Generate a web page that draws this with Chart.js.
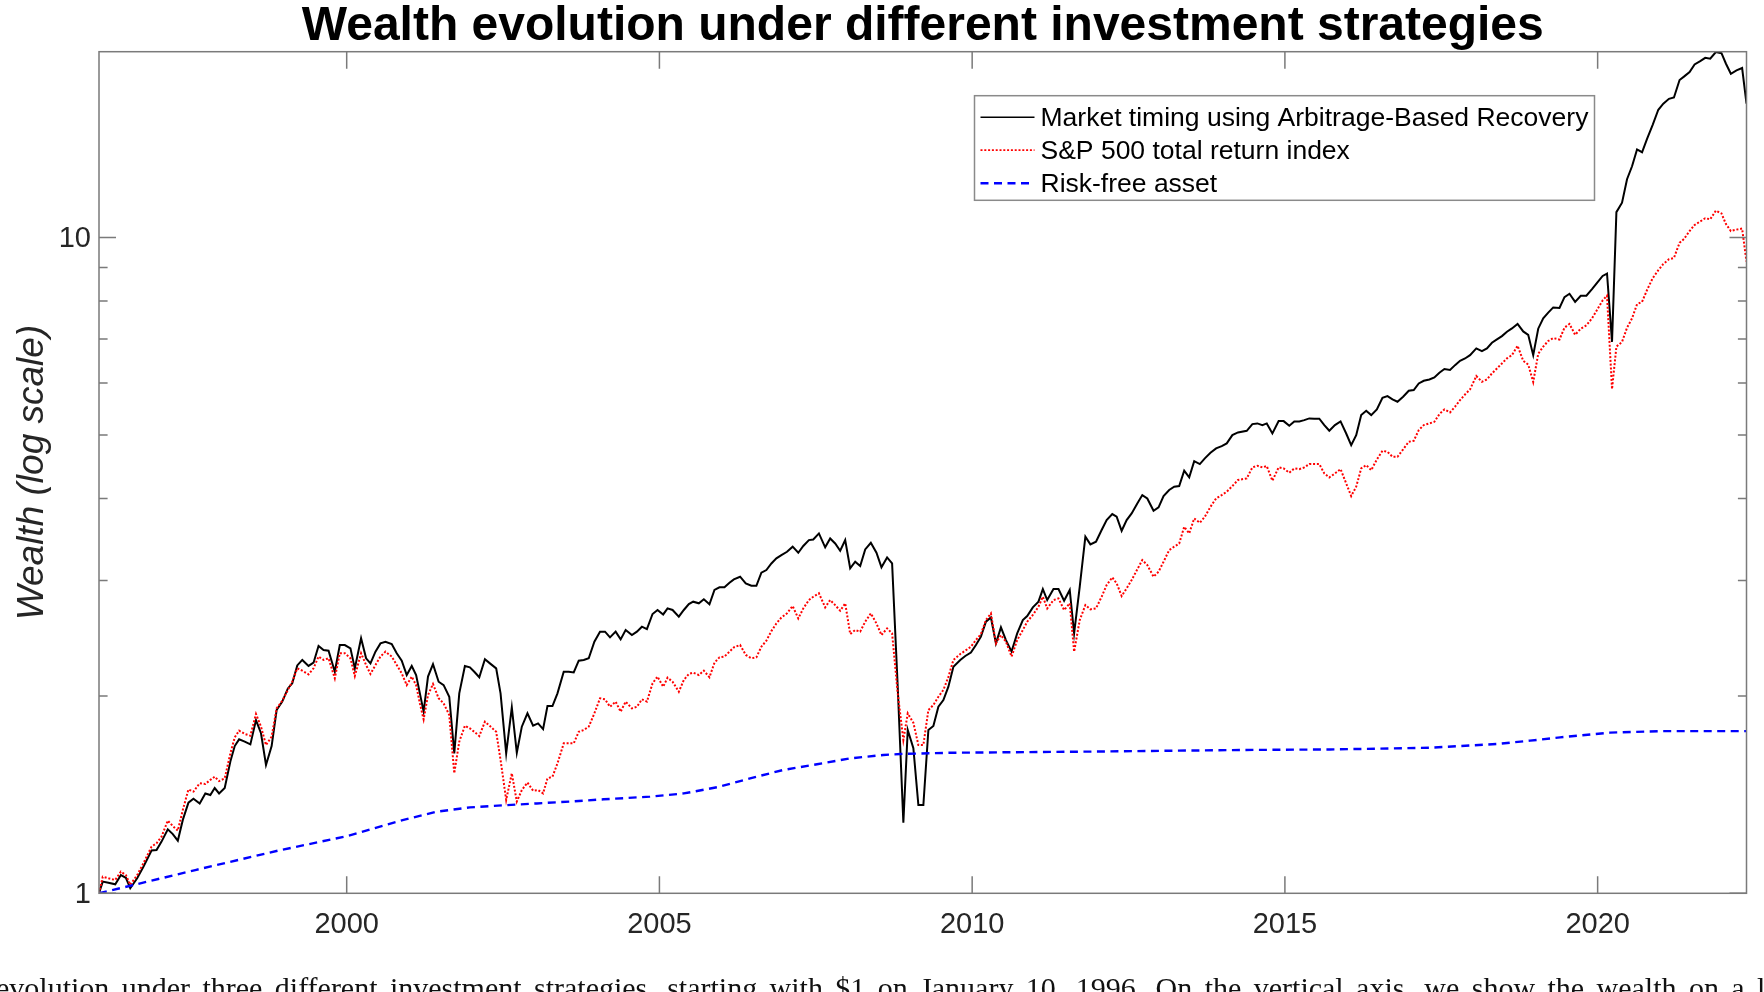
<!DOCTYPE html>
<html>
<head>
<meta charset="utf-8">
<script src="https://cdn.jsdelivr.net/npm/chart.js@4/dist/chart.umd.min.js"></script>
<style>
html,body{margin:0;padding:0;background:#fff;}
#wrap{position:relative;width:1764px;height:992px;overflow:hidden;background:#fff;}
canvas{display:block;}
</style>
</head>
<body>
<div id="wrap"><canvas id="c" width="1764" height="992"></canvas></div>
<script>
// ---------------- data ----------------
const chartTitle = 'Wealth evolution under different investment strategies';
const yAxisTitle = 'Wealth (log scale)';
const seriesNames = ['Market timing using Arbitrage-Based Recovery', 'S&P 500 total return index', 'Risk-free asset'];
const captionText = 'evolution under three different investment strategies, starting with $1 on January 10, 1996. On the vertical axis, we show the wealth on a log scale.';

const xMin = 1996.04;
const xMax = 2022.38;
const yMin = 1;
const yMax = 19.2;
const xTickValues = [2000, 2005, 2010, 2015, 2020];
const yTickValues = [1, 10];
const yMinorTickValues = [2, 3, 4, 5, 6, 7, 8, 9];

const months = [
  1996.04, 1996.10, 1996.19, 1996.30, 1996.39, 1996.47, 1996.54, 1996.65, 1996.75, 1996.88, 1996.96,
  1997.04, 1997.14, 1997.22, 1997.30, 1997.38, 1997.47, 1997.55, 1997.65, 1997.74, 1997.82, 1997.89, 1997.96,
  1998.05, 1998.14, 1998.21, 1998.28, 1998.37, 1998.46, 1998.55, 1998.63, 1998.71, 1998.80, 1998.88, 1998.97,
  1999.06, 1999.13, 1999.21, 1999.29, 1999.39, 1999.47, 1999.55, 1999.63, 1999.71, 1999.81, 1999.89, 1999.97,
  2000.06, 2000.13, 2000.23, 2000.31, 2000.38, 2000.46, 2000.54, 2000.62,
  2000.72, 2000.80, 2000.88, 2000.96,
  2001.04, 2001.11, 2001.17, 2001.23, 2001.30, 2001.38, 2001.47, 2001.55, 2001.64, 2001.72, 2001.80, 2001.89, 2001.97,
  2002.04, 2002.12, 2002.21, 2002.29, 2002.39, 2002.46, 2002.55, 2002.64, 2002.72, 2002.80, 2002.89, 2002.98,
  2003.06, 2003.14, 2003.21, 2003.29, 2003.37, 2003.47, 2003.55, 2003.63, 2003.71, 2003.79, 2003.87, 2003.96,
  2004.05, 2004.13, 2004.21, 2004.30, 2004.38, 2004.46, 2004.56, 2004.64, 2004.72, 2004.80, 2004.89, 2004.97,
  2005.06, 2005.13, 2005.21, 2005.31, 2005.39, 2005.47, 2005.54, 2005.63, 2005.71, 2005.80, 2005.88, 2005.96,
  2006.04, 2006.12, 2006.19, 2006.29, 2006.38, 2006.47, 2006.55, 2006.63, 2006.71, 2006.79, 2006.87, 2006.95,
  2007.04, 2007.13, 2007.22, 2007.30, 2007.39, 2007.46, 2007.55, 2007.65, 2007.73, 2007.81, 2007.89, 2007.97,
  2008.05, 2008.13, 2008.21, 2008.29, 2008.38, 2008.47, 2008.55, 2008.64, 2008.72, 2008.81, 2008.90, 2008.97,
  2009.06, 2009.14, 2009.22, 2009.30, 2009.38, 2009.46, 2009.54,
  2009.62, 2009.70, 2009.81, 2009.89, 2009.98,
  2010.06, 2010.14, 2010.22, 2010.30, 2010.38, 2010.46, 2010.54, 2010.63, 2010.72, 2010.81, 2010.88, 2010.97,
  2011.06, 2011.13, 2011.20, 2011.30, 2011.38, 2011.47, 2011.56, 2011.63, 2011.72, 2011.81, 2011.89, 2011.98,
  2012.07, 2012.15, 2012.24, 2012.31, 2012.39, 2012.47, 2012.55, 2012.64, 2012.72, 2012.80, 2012.90, 2012.98,
  2013.06, 2013.15, 2013.23, 2013.31, 2013.39, 2013.47, 2013.55, 2013.64, 2013.72, 2013.81, 2013.90, 2013.99,
  2014.07, 2014.16, 2014.25,
  2014.39, 2014.48, 2014.56, 2014.64, 2014.71, 2014.80, 2014.90, 2014.98,
  2015.07, 2015.15, 2015.23, 2015.31, 2015.39, 2015.47, 2015.55, 2015.63, 2015.71, 2015.80, 2015.89, 2015.98,
  2016.06, 2016.14, 2016.22, 2016.30, 2016.38, 2016.47, 2016.56, 2016.64, 2016.72, 2016.80, 2016.89, 2016.98,
  2017.06, 2017.14, 2017.22, 2017.31, 2017.39, 2017.47, 2017.55, 2017.64, 2017.72, 2017.80, 2017.88, 2017.96,
  2018.06, 2018.15, 2018.23, 2018.31, 2018.39, 2018.47, 2018.55, 2018.63,
  2018.72, 2018.81, 2018.89, 2018.97,
  2019.05, 2019.13, 2019.21, 2019.29, 2019.39, 2019.47, 2019.55, 2019.64, 2019.73, 2019.82, 2019.91,
  2020.00, 2020.08, 2020.15, 2020.23, 2020.30, 2020.39, 2020.47, 2020.55, 2020.63, 2020.71, 2020.79, 2020.88, 2020.97,
  2021.05, 2021.14, 2021.22, 2021.31, 2021.38, 2021.47, 2021.55, 2021.64, 2021.72, 2021.80, 2021.89, 2021.98,
  2022.05, 2022.13, 2022.22, 2022.31, 2022.38
];

const timingWealth = [
  1.000, 1.042, 1.038, 1.032, 1.066, 1.056, 1.018, 1.054, 1.098, 1.162, 1.164,
  1.199, 1.252, 1.231, 1.203, 1.294, 1.375, 1.394, 1.371, 1.420, 1.412, 1.447, 1.420,
  1.447, 1.588, 1.677, 1.717, 1.703, 1.687, 1.837, 1.754, 1.569, 1.677, 1.903, 1.960,
  2.053, 2.090, 2.226, 2.269, 2.222, 2.247, 2.383, 2.349, 2.344, 2.177, 2.391, 2.391,
  2.363, 2.203, 2.448, 2.282, 2.242, 2.336, 2.405, 2.419,
  2.400, 2.323, 2.263, 2.152,
  2.221, 2.152, 2.018, 1.892, 2.140, 2.236, 2.102, 2.077, 1.994, 1.634, 2.018, 2.221, 2.211,
  2.177, 2.135, 2.274, 2.242, 2.203, 2.018, 1.634, 1.921, 1.638, 1.795, 1.881, 1.801,
  1.816, 1.780, 1.930, 1.930, 2.018, 2.177, 2.177, 2.172, 2.263, 2.269, 2.282, 2.419,
  2.506, 2.506, 2.456, 2.506, 2.439, 2.520, 2.476, 2.506, 2.550, 2.529, 2.666, 2.704,
  2.662, 2.719, 2.704, 2.641, 2.704, 2.761, 2.784, 2.768, 2.807, 2.758, 2.901, 2.928,
  2.928, 2.976, 3.011, 3.039, 2.969, 2.944, 2.944, 3.082, 3.111, 3.184, 3.241, 3.279,
  3.317, 3.377, 3.306, 3.385, 3.456, 3.464, 3.538, 3.369, 3.476, 3.415, 3.329, 3.456,
  3.130, 3.203, 3.155, 3.345, 3.424, 3.306, 3.141, 3.252, 3.184, 2.065, 1.281, 1.774,
  1.664, 1.363, 1.363, 1.774, 1.799, 1.925, 1.971,
  2.066, 2.216, 2.269, 2.301, 2.328,
  2.391, 2.462, 2.595, 2.634, 2.405, 2.544, 2.433, 2.336, 2.491, 2.610, 2.647, 2.729,
  2.784, 2.910, 2.800, 2.910, 2.910, 2.793, 2.901, 2.491, 2.935, 3.497, 3.404, 3.436,
  3.580, 3.708, 3.787, 3.751, 3.571, 3.708, 3.796, 3.931, 4.048, 4.000, 3.831, 3.876,
  4.034, 4.120, 4.169, 4.178, 4.409, 4.307, 4.561, 4.513, 4.604, 4.696, 4.768, 4.807,
  4.853, 4.996, 5.043,
  5.073, 5.193, 5.206, 5.175, 5.206, 5.025, 5.248, 5.248,
  5.163, 5.242, 5.242, 5.266, 5.298, 5.292, 5.292, 5.175, 5.073, 5.175, 5.242, 5.025,
  4.824, 4.996, 5.360, 5.442, 5.360, 5.468, 5.697, 5.730, 5.664, 5.618, 5.717, 5.839,
  5.853, 5.991, 6.047, 6.075, 6.118, 6.219, 6.302, 6.281, 6.388, 6.486, 6.539, 6.616,
  6.775, 6.712, 6.775, 6.910, 6.991, 7.073, 7.182, 7.267,
  7.382, 7.190, 7.106, 6.616,
  7.260, 7.530, 7.681, 7.823, 7.810, 8.112, 8.207, 7.978, 8.151, 8.151, 8.342,
  8.553, 8.738, 8.811, 6.931, 10.93, 11.30, 12.27, 12.84, 13.62, 13.49, 14.14, 14.85, 15.66,
  16.00, 16.27, 16.35, 17.38, 17.59, 17.88, 18.36, 18.57, 18.79, 18.73, 19.18, 19.10,
  18.42, 17.77, 17.98, 18.13, 16.00
];

const sp500Wealth = [
  1.000, 1.060, 1.054, 1.048, 1.079, 1.066, 1.030, 1.066, 1.111, 1.178, 1.192,
  1.220, 1.291, 1.266, 1.246, 1.340, 1.440, 1.429, 1.472, 1.468, 1.489, 1.506, 1.483,
  1.497, 1.634, 1.729, 1.770, 1.750, 1.739, 1.877, 1.795, 1.683, 1.733, 1.914, 1.966,
  2.042, 2.102, 2.203, 2.185, 2.157, 2.203, 2.296, 2.269, 2.282, 2.127, 2.323, 2.323,
  2.282, 2.144, 2.323, 2.229, 2.160, 2.229, 2.296, 2.336,
  2.296, 2.229, 2.164, 2.077,
  2.140, 2.077, 1.948, 1.842, 2.006, 2.085, 1.983, 1.948, 1.870, 1.524, 1.703, 1.801, 1.784,
  1.763, 1.737, 1.827, 1.799, 1.763, 1.597, 1.388, 1.524, 1.380, 1.437, 1.475, 1.434,
  1.437, 1.420, 1.497, 1.506, 1.578, 1.693, 1.693, 1.693, 1.763, 1.774, 1.795, 1.881,
  1.983, 1.976, 1.925, 1.960, 1.892, 1.960, 1.914, 1.925, 1.976, 1.960, 2.090, 2.140,
  2.065, 2.132, 2.102, 2.029, 2.115, 2.160, 2.170, 2.152, 2.185, 2.135, 2.247, 2.290,
  2.296, 2.336, 2.371, 2.391, 2.309, 2.282, 2.290, 2.377, 2.428, 2.511, 2.579, 2.634,
  2.672, 2.742, 2.625, 2.719, 2.800, 2.833, 2.867, 2.729, 2.800, 2.751, 2.697, 2.768,
  2.485, 2.520, 2.506, 2.595, 2.672, 2.579, 2.476, 2.535, 2.491, 2.018, 1.713, 1.881,
  1.820, 1.683, 1.683, 1.903, 1.937, 1.994, 2.042,
  2.138, 2.269, 2.317, 2.344, 2.377,
  2.433, 2.485, 2.610, 2.672, 2.405, 2.476, 2.419, 2.296, 2.433, 2.520, 2.595, 2.657,
  2.735, 2.833, 2.719, 2.800, 2.816, 2.704, 2.768, 2.336, 2.610, 2.751, 2.710, 2.719,
  2.833, 2.951, 3.032, 2.969, 2.840, 2.917, 3.004, 3.119, 3.222, 3.166, 3.039, 3.093,
  3.203, 3.337, 3.377, 3.415, 3.622, 3.538, 3.729, 3.673, 3.751, 3.885, 4.000, 4.048,
  4.096, 4.178, 4.268,
  4.292, 4.461, 4.487, 4.461, 4.482, 4.257, 4.461, 4.445,
  4.378, 4.445, 4.434, 4.461, 4.513, 4.513, 4.513, 4.367, 4.307, 4.367, 4.434, 4.217,
  4.034, 4.169, 4.445, 4.497, 4.418, 4.587, 4.729, 4.712, 4.631, 4.631, 4.752, 4.881,
  4.898, 5.085, 5.175, 5.206, 5.236, 5.379, 5.468, 5.411, 5.520, 5.649, 5.763, 5.867,
  6.147, 6.026, 6.075, 6.204, 6.314, 6.426, 6.541, 6.616,
  6.839, 6.486, 6.401, 6.021,
  6.648, 6.817, 6.954, 7.024, 6.989, 7.285, 7.383, 7.106, 7.261, 7.345, 7.528,
  7.782, 8.019, 8.152, 5.874, 6.817, 6.931, 7.285, 7.528, 7.912, 7.978, 8.316, 8.668, 8.916,
  9.111, 9.264, 9.308, 9.815, 9.947, 10.23, 10.45, 10.58, 10.70, 10.66, 10.99, 10.88,
  10.49, 10.23, 10.28, 10.32, 9.187
];

const riskFreeYears = [
  1996.04, 1997.58, 1998.91, 2000.00, 2000.38, 2000.91, 2001.44, 2001.97, 2002.51, 2003.04,
  2003.57, 2004.11, 2004.85, 2005.39, 2005.92, 2006.45, 2006.98, 2007.52, 2008.05, 2008.58,
  2008.85, 2009.65, 2012.00, 2014.29, 2015.72, 2017.32, 2018.39, 2018.92, 2019.40, 2020.20,
  2021.00, 2022.38
];
const riskFreeWealth = [
  1.000, 1.085, 1.162, 1.222, 1.252, 1.294, 1.332, 1.352, 1.362, 1.371,
  1.380, 1.391, 1.404, 1.420, 1.451, 1.497, 1.542, 1.573, 1.606, 1.625,
  1.631, 1.638, 1.645, 1.654, 1.657, 1.667, 1.689, 1.709, 1.729, 1.758,
  1.767, 1.767
];

// ---------------- styling ----------------
const SANS = '"Liberation Sans", Arial, Helvetica, sans-serif';
const axisGray = '#7a7a7a';
const textGray = '#262626';

const matlabAxes = {
  id: 'matlabAxes',
  afterDatasetsDraw(chart) {
    const ctx = chart.ctx;
    const a = chart.chartArea;
    const xs = chart.scales.x, ys = chart.scales.y;
    ctx.save();
    ctx.strokeStyle = axisGray;
    ctx.lineWidth = 1.5;
    ctx.setLineDash([]);
    ctx.strokeRect(a.left, a.top, a.right - a.left, a.bottom - a.top);
    const major = 17, minor = 8.6;
    ctx.beginPath();
    xTickValues.forEach(v => {
      const px = xs.getPixelForValue(v);
      ctx.moveTo(px, a.bottom); ctx.lineTo(px, a.bottom - major);
      ctx.moveTo(px, a.top); ctx.lineTo(px, a.top + major);
    });
    yTickValues.forEach(v => {
      const py = ys.getPixelForValue(v);
      ctx.moveTo(a.left, py); ctx.lineTo(a.left + major, py);
      ctx.moveTo(a.right, py); ctx.lineTo(a.right - major, py);
    });
    yMinorTickValues.forEach(v => {
      const py = ys.getPixelForValue(v);
      ctx.moveTo(a.left, py); ctx.lineTo(a.left + minor, py);
      ctx.moveTo(a.right, py); ctx.lineTo(a.right - minor, py);
    });
    ctx.stroke();
    ctx.restore();
  },
  afterDraw(chart) {
    const ctx = chart.ctx;
    const a = chart.chartArea;
    ctx.save();
    // title
    ctx.fillStyle = '#000';
    ctx.font = 'bold 48px ' + SANS;
    ctx.textAlign = 'center';
    ctx.textBaseline = 'alphabetic';
    ctx.fillText(chartTitle, (a.left + a.right) / 2, 40);

    // legend
    const bx = a.right - 772, by = a.top + 44, bw = 620, bh = 104.6;
    ctx.fillStyle = '#fff';
    ctx.fillRect(bx, by, bw, bh);
    ctx.strokeStyle = '#8a8a8a';
    ctx.lineWidth = 1.5;
    ctx.setLineDash([]);
    ctx.strokeRect(bx, by, bw, bh);
    const rows = [21.5, 54.5, 87.5];
    chart.data.datasets.forEach((ds, i) => {
      const cy = by + rows[i];
      ctx.save();
      ctx.strokeStyle = ds.borderColor;
      ctx.lineWidth = ds.legendWidth;
      ctx.setLineDash(ds.borderDash || []);
      ctx.beginPath();
      ctx.moveTo(bx + 6, cy);
      ctx.lineTo(bx + 60, cy);
      ctx.stroke();
      ctx.restore();
      ctx.fillStyle = '#000';
      ctx.font = '26.5px ' + SANS;
      ctx.textAlign = 'left';
      ctx.textBaseline = 'middle';
      ctx.fillText(ds.label, bx + 66, cy + 1);
    });

    // partially visible caption line below the figure
    ctx.fillStyle = '#111';
    ctx.font = '30px "Liberation Serif", "Times New Roman", serif';
    ctx.textAlign = 'left';
    ctx.textBaseline = 'alphabetic';
    const words = captionText.split(' ');
    const stopIdx = words.indexOf('log');
    let sum = 0;
    for (let i = 0; i < stopIdx; i++) sum += ctx.measureText(words[i]).width;
    const startX = -4, endX = 1757;
    const gap = (endX - startX - sum) / stopIdx;
    let cx = startX;
    words.forEach(w => {
      ctx.fillText(w, cx, 998);
      cx += ctx.measureText(w).width + gap;
    });
    ctx.restore();
  }
};

new Chart(document.getElementById('c'), {
  type: 'line',
  data: {
    datasets: [
      {
        label: seriesNames[0],
        data: months.map((m, i) => ({ x: m, y: timingWealth[i] })),
        borderColor: '#000000', borderWidth: 2, legendWidth: 1.6,
        pointRadius: 0, tension: 0, fill: false, order: 3
      },
      {
        label: seriesNames[1],
        data: months.map((m, i) => ({ x: m, y: sp500Wealth[i] })),
        borderColor: '#ff0000', borderWidth: 2, borderDash: [2, 1.8], legendWidth: 1.8,
        pointRadius: 0, tension: 0, fill: false, order: 2
      },
      {
        label: seriesNames[2],
        data: riskFreeYears.map((m, i) => ({ x: m, y: riskFreeWealth[i] })),
        borderColor: '#0000ff', borderWidth: 2.4, borderDash: [8, 5.5], legendWidth: 2.4,
        pointRadius: 0, tension: 0, fill: false, order: 1
      }
    ]
  },
  options: {
    responsive: false,
    animation: false,
    devicePixelRatio: 1,
    layout: { padding: { top: 51.7, right: 17.5, bottom: 0, left: 0 } },
    plugins: { legend: { display: false }, title: { display: false }, tooltip: { enabled: false } },
    scales: {
      x: {
        type: 'linear', min: xMin, max: xMax,
        afterBuildTicks: s => { s.ticks = xTickValues.map(v => ({ value: v })); },
        afterFit: s => { s.height = 98.7; },
        ticks: {
          autoSkip: false, maxRotation: 0, minRotation: 0, padding: 14.5,
          color: textGray, font: { family: SANS, size: 29 },
          callback: v => String(v)
        },
        grid: { display: false, drawTicks: false },
        border: { display: false }
      },
      y: {
        type: 'logarithmic', min: yMin, max: yMax,
        afterBuildTicks: s => { s.ticks = yTickValues.map(v => ({ value: v })); },
        afterFit: s => { s.width = 99; },
        ticks: {
          autoSkip: false, padding: 8, labelOffset: 2,
          color: textGray, font: { family: SANS, size: 29 },
          callback: v => String(v)
        },
        grid: { display: false, drawTicks: false },
        border: { display: false },
        title: {
          display: true, text: yAxisTitle, color: textGray,
          font: { family: SANS, size: 37, style: 'italic' },
          padding: { top: 11, bottom: 0 }
        }
      }
    }
  },
  plugins: [matlabAxes]
});
</script>
</body>
</html>
